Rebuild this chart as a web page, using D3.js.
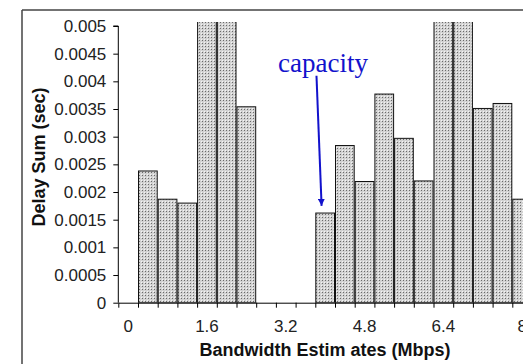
<!DOCTYPE html>
<html>
<head>
<meta charset="utf-8">
<script src="https://cdn.jsdelivr.net/npm/d3@7"></script>
<style>
  html, body { margin: 0; padding: 0; background: #fff; overflow: hidden; }
  svg { display: block; }
</style>
</head>
<body>
<div id="chart"></div>
<script>
// ---- data ----
const categories = ["0","0.4","0.8","1.2","1.6","2","2.4","2.8","3.2","3.6","4","4.4","4.8","5.2","5.6","6","6.4","6.8","7.2","7.6","8"];
const delaySum = [0, 0.00238, 0.00187, 0.0018, 0.0062, 0.0062, 0.00354, 0, 0, 0, 0.00162, 0.00284, 0.00219, 0.00377, 0.00297, 0.0022, 0.0062, 0.0062, 0.00351, 0.0036, 0.00187];
const xTickLabels = ["0","1.6","3.2","4.8","6.4","8"];
const yTickValues = [0, 0.0005, 0.001, 0.0015, 0.002, 0.0025, 0.003, 0.0035, 0.004, 0.0045, 0.005];
const yTickLabels = ["0","0.0005","0.001","0.0015","0.002","0.0025","0.003","0.0035","0.004","0.0045","0.005"];
const annotationText = "capacity";
const annotationIndex = 10;

// ---- layout ----
const W = 523, H = 364;
const plotLeft = 118.3, bandW = 19.7;
const plotTop = 26, plotBottom = 302.7, clipTop = 22;

const svg = d3.select("#chart").append("svg").attr("width", W).attr("height", H);

const defs = svg.append("defs");
const pat = defs.append("pattern").attr("id", "stipple")
  .attr("patternUnits", "userSpaceOnUse").attr("width", 3).attr("height", 3);
pat.append("rect").attr("width", 3).attr("height", 3).attr("fill", "#d2d2d2");
pat.append("rect").attr("x", 1).attr("y", 1).attr("width", 1).attr("height", 1).attr("fill", "#6a6a6a");
pat.append("rect").attr("x", 0).attr("y", 0).attr("width", 1).attr("height", 1).attr("fill", "#f4f4f4");

defs.append("clipPath").attr("id", "plotclip").append("rect")
  .attr("x", plotLeft).attr("y", clipTop).attr("width", W - plotLeft).attr("height", plotBottom - clipTop);

// outer frame
svg.append("line").attr("x1", 22).attr("x2", W).attr("y1", 10).attr("y2", 10)
  .attr("stroke", "#444").attr("stroke-width", 1.5);
svg.append("line").attr("x1", 22).attr("x2", 22).attr("y1", 10).attr("y2", H)
  .attr("stroke", "#444").attr("stroke-width", 1.5);

// scales
const x = d3.scaleBand().domain(d3.range(categories.length))
  .range([plotLeft, plotLeft + bandW * categories.length]).paddingInner(0).paddingOuter(0);
const xEdge = d3.scaleLinear().domain([0, categories.length])
  .range([plotLeft, plotLeft + bandW * categories.length]);
const y = d3.scaleLinear().domain([0, 0.005]).range([plotBottom, plotTop]);

// bars
svg.append("g").attr("clip-path", "url(#plotclip)")
  .selectAll("rect").data(delaySum.map((v, i) => ({v, i})).filter(d => d.v > 0))
  .join("rect")
  .attr("x", d => x(d.i) + 0.5)
  .attr("y", d => y(d.v))
  .attr("width", x.bandwidth() - 1)
  .attr("height", d => plotBottom - y(d.v))
  .attr("fill", "url(#stipple)")
  .attr("stroke", "#111").attr("stroke-width", 1);

// y axis
const yAxis = d3.axisLeft(y).tickValues(yTickValues)
  .tickFormat((d, i) => yTickLabels[i]).tickSize(5).tickPadding(7);
const gy = svg.append("g").attr("transform", `translate(${plotLeft},0)`).call(yAxis);
gy.select(".domain").attr("stroke", "#000").attr("d", `M-5,${plotTop}H0V${plotBottom}`);
gy.selectAll(".tick line").attr("stroke", "#000");
gy.selectAll("text").attr("font-family", "'Liberation Sans', Arial, sans-serif")
  .attr("font-size", 17).attr("fill", "#222");

// x axis ticks at category boundaries
const xAxisTicks = d3.axisBottom(xEdge).tickValues(d3.range(0, categories.length + 1))
  .tickFormat("").tickSize(5).tickSizeOuter(0);
const gx = svg.append("g").attr("transform", `translate(0,${plotBottom})`).call(xAxisTicks);
gx.select(".domain").attr("stroke", "#000");
gx.selectAll(".tick line").attr("stroke", "#000");

// x labels at category centers
const xLabelAxis = d3.axisBottom(x)
  .tickValues(d3.range(0, categories.length, 4))
  .tickFormat((d, i) => xTickLabels[i]).tickSize(0).tickPadding(17);
const gxl = svg.append("g").attr("transform", `translate(0,${plotBottom})`).call(xLabelAxis);
gxl.select(".domain").remove();
gxl.selectAll("text").attr("font-family", "'Liberation Sans', Arial, sans-serif")
  .attr("font-size", 17).attr("fill", "#222");

// axis titles
svg.append("text").attr("x", 325).attr("y", 356).attr("text-anchor", "middle")
  .attr("font-family", "'Liberation Sans', Arial, sans-serif").attr("font-weight", "bold")
  .attr("font-size", 18).attr("fill", "#111").text("Bandwidth Estim ates (Mbps)");
svg.append("text").attr("transform", "translate(45,157) rotate(-90)").attr("text-anchor", "middle")
  .attr("font-family", "'Liberation Sans', Arial, sans-serif").attr("font-weight", "bold")
  .attr("font-size", 18).attr("fill", "#111").text("Delay Sum (sec)");

// annotation
const blue = "#1212cc";
const ax0 = x(annotationIndex) + 0.06 * bandW, ay0 = y(0.0041);
const ax1 = x(annotationIndex) + 0.32 * bandW, ay1 = y(0.00175);
defs.append("marker").attr("id", "arrow").attr("viewBox", "0 0 10 10")
  .attr("refX", 10).attr("refY", 5).attr("markerWidth", 3.6).attr("markerHeight", 3.6)
  .attr("markerUnits", "strokeWidth").attr("orient", "auto")
  .append("path").attr("d", "M0,0L10,5L0,10Z").attr("fill", blue);
svg.append("line").attr("x1", ax0).attr("y1", ay0).attr("x2", ax1).attr("y2", ay1)
  .attr("stroke", blue).attr("stroke-width", 2).attr("marker-end", "url(#arrow)");
svg.append("text").attr("x", 278).attr("y", 72)
  .attr("font-family", "'Liberation Serif', 'Times New Roman', serif")
  .attr("font-size", 27).attr("fill", blue).text(annotationText);
</script>
</body>
</html>
